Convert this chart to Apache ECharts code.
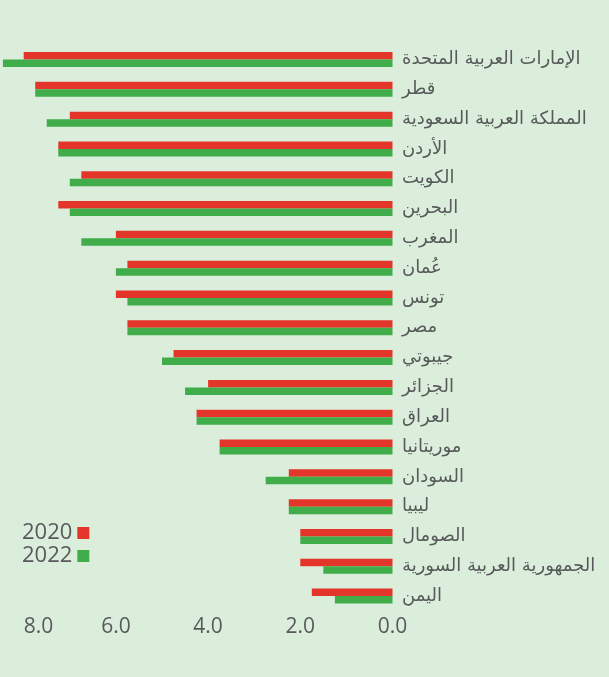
<!DOCTYPE html>
<html>
<head>
<meta charset="utf-8">
<script src="https://cdn.jsdelivr.net/npm/echarts@6/dist/echarts.min.js"></script>
<style>
html,body{margin:0;padding:0;background:#daeedb;}
#chart{width:609px;height:677px;}
</style>
</head>
<body>
<div id="chart"></div>
<script>
const categories = ['الإمارات العربية المتحدة','قطر','المملكة العربية السعودية','الأردن','الكويت','البحرين','المغرب','عُمان','تونس','مصر','جيبوتي','الجزائر','العراق','موريتانيا','السودان','ليبيا','الصومال','الجمهورية العربية السورية','اليمن'];
const values2020 = [8.0,7.75,7.0,7.25,6.75,7.25,6.0,5.75,6.0,5.75,4.75,4.0,4.25,3.75,2.25,2.25,2.0,2.0,1.75];
const values2022 = [8.45,7.75,7.5,7.25,7.0,7.0,6.75,6.0,5.75,5.75,5.0,4.5,4.25,3.75,2.75,2.25,2.0,1.5,1.25];
const tickValues = [0,2,4,6,8];

const chart = echarts.init(document.getElementById('chart'));
const textColor = '#58595b';
chart.setOption({
  backgroundColor: '#daeedb',
  animation: false,
  legend: {
    orient: 'vertical',
    left: 17, top: 517,
    align: 'right',
    itemWidth: 12, itemHeight: 12, itemGap: 1,
    icon: 'rect',
    textStyle: {color: textColor, fontSize: 22, fontFamily: 'Open Sans'},
    data: ['2020','2022']
  },
  grid: {left: 23.7, right: 216.5, top: 44.6, bottom: 66, containLabel: false},
  xAxis: {
    type: 'value', inverse: true, min: 0, max: 8, interval: 2,
    axisLine: {show: false}, axisTick: {show: false}, splitLine: {show: false},
    axisLabel: {
      color: textColor, fontSize: 21, fontFamily: 'Open Sans', margin: 6,
      alignMaxLabel: 'left',
      formatter: v => tickValues.includes(v) ? v.toFixed(1) : ''
    }
  },
  yAxis: {
    type: 'category', inverse: true, position: 'right', data: categories,
    axisLine: {show: false}, axisTick: {show: false}, splitLine: {show: false},
    axisLabel: {color: textColor, fontSize: 18, fontFamily: 'DejaVu Sans', margin: 9.5, align: 'left'}
  },
  series: [
    {name: '2020', type: 'bar', data: values2020, barGap: '0%', barWidth: 7.5, clip: false,
     itemStyle: {color: '#e4352a'}},
    {name: '2022', type: 'bar', data: values2022, barGap: '0%', barWidth: 7.5, clip: false,
     itemStyle: {color: '#41ac4a'}}
  ]
});
</script>
</body>
</html>
